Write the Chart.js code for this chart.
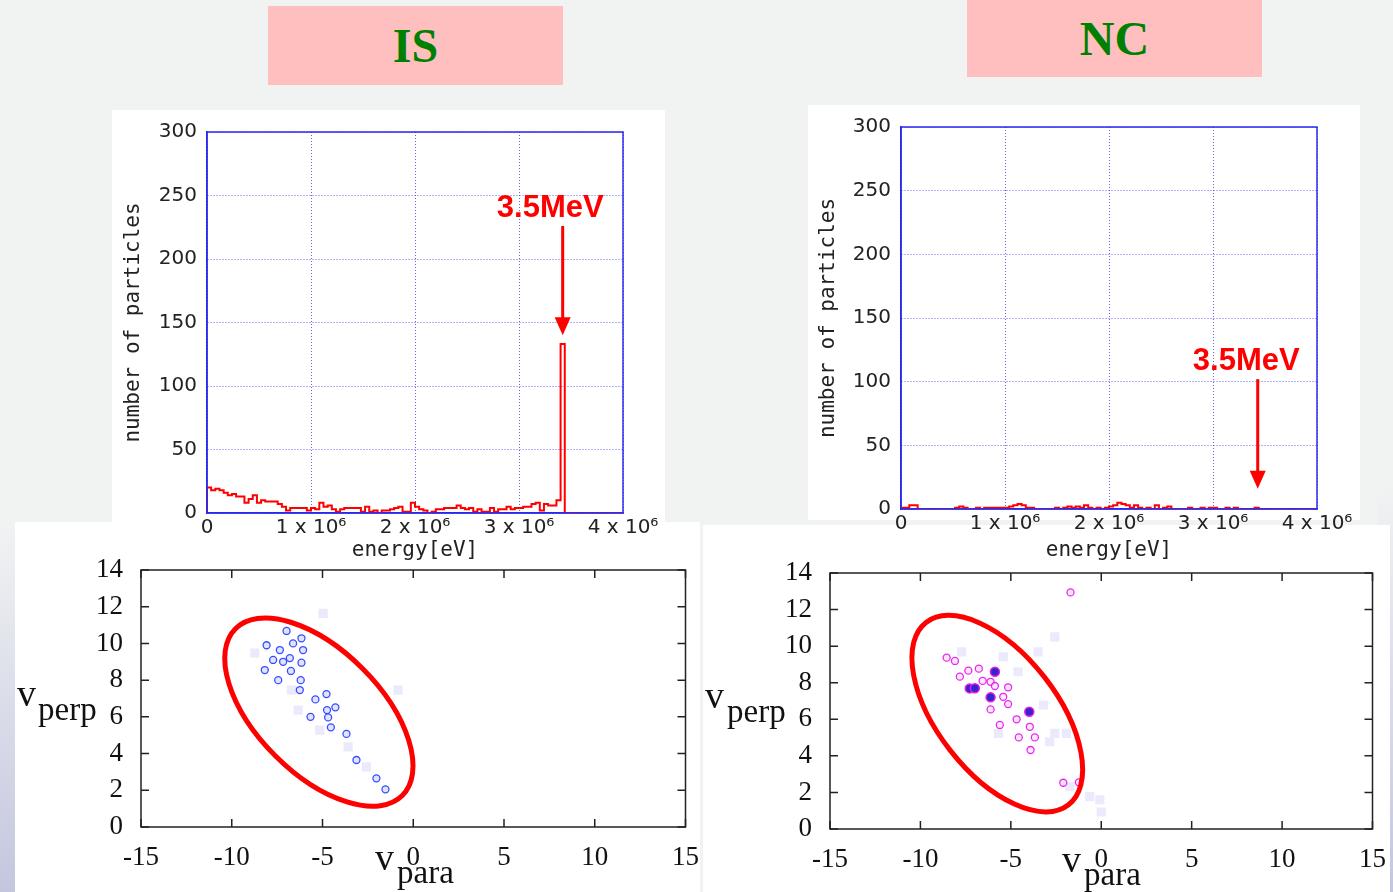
<!DOCTYPE html>
<html>
<head>
<meta charset="utf-8">
<script src="https://cdn.jsdelivr.net/npm/chart.js@4.4.1/dist/chart.umd.min.js"></script>
<style>
  html, body { margin: 0; padding: 0; }
  body { width: 1393px; height: 892px; background: #f1f3f3; position: relative; overflow: hidden; }
  .abs { position: absolute; }
  .panel { position: absolute; background: #fff; }
  .tag { position: absolute; background: #ffbfbf; color: #008000; font: bold 48px "Liberation Serif", serif;
         display: flex; align-items: center; justify-content: center; }
  .lab { position: absolute; font-family: "Liberation Serif", serif; color: #111; line-height: 1; white-space: nowrap; }
  canvas { position: absolute; }
</style>
</head>
<body>
<div class="abs" style="left:0;top:520px;width:15px;height:372px;background:linear-gradient(to bottom,#f1f3f3,#c3c7de);"></div>
<div class="abs" style="left:1378px;top:480px;width:15px;height:412px;background:linear-gradient(to bottom,#f1f3f3,#c3c7de);"></div>

<div class="panel" style="left:112px;top:110px;width:553px;height:412px;"></div>
<div class="panel" style="left:808px;top:105px;width:552px;height:415px;"></div>
<div class="panel" style="left:15px;top:522px;width:685px;height:370px;"></div>
<div class="panel" style="left:703px;top:525px;width:687px;height:367px;"></div>

<div class="tag" style="left:268px;top:6px;width:295px;height:79px;">IS</div>
<div class="tag" style="left:967px;top:0;width:295px;height:77px;">NC</div>

<canvas id="histIS" width="553" height="455" style="left:112px;top:110px;"></canvas>
<canvas id="histNC" width="552" height="460" style="left:808px;top:105px;"></canvas>
<canvas id="velIS" width="691" height="370" style="left:15px;top:522px;"></canvas>
<canvas id="velNC" width="690" height="367" style="left:703px;top:525px;"></canvas>

<span class="lab" style="left:17px;top:674px;font-size:38px;">v</span>
<span class="lab" style="left:38px;top:693px;font-size:33px;">perp</span>
<span class="lab" style="left:705px;top:676px;font-size:38px;">v</span>
<span class="lab" style="left:727px;top:695px;font-size:33px;">perp</span>
<span class="lab" style="left:375px;top:838px;font-size:38px;">v</span>
<span class="lab" style="left:397px;top:856px;font-size:33px;">para</span>
<span class="lab" style="left:1062px;top:840px;font-size:38px;">v</span>
<span class="lab" style="left:1084px;top:858px;font-size:33px;">para</span>

<script>
// energy histograms: counts per 40 keV bin, starting at 0 eV
const binWidth = 40000;
const energyMax = 4e6;
const energyTicks = [0, 1e6, 2e6, 3e6, 4e6];
const isCounts = [6, 20, 18, 19, 18, 16, 14, 15, 13, 13,
                  8, 11, 14, 8, 10, 9, 9, 9, 7, 5,
                  2, 4, 4, 4, 4, 2, 4, 3, 8, 5,
                  6, 3, 1, 3, 4, 4, 4, 4, 1, 5,
                  1, 2, 0, 2, 2, 3, 4, 5, 1, 1,
                  8, 5, 3, 2, 0, 1, 3, 3, 4, 4,
                  4, 6, 4, 3, 4, 1, 3, 1, 1, 4,
                  1, 3, 3, 5, 3, 4, 4, 5, 5, 7,
                  8, 2, 7, 6, 6, 10, 133];
const ncCounts = [1, 1, 1, 3, 3, 0, 0, 0, 0, 0,
                  0, 0, 0, 0, 1, 2, 1, 0, 0, 1,
                  0, 1, 1, 1, 1, 1, 1, 2, 3, 4,
                  3, 1, 1, 0, 0, 0, 0, 0, 1, 0,
                  1, 2, 1, 2, 1, 3, 1, 0, 1, 0,
                  1, 2, 3, 5, 4, 3, 1, 3, 1, 0,
                  1, 0, 3, 0, 1, 2, 0, 0, 0, 0,
                  1, 0, 0, 1, 0, 1, 1, 0, 0, 1,
                  0, 1, 0, 0, 0, 0, 1, 0, 0, 0,
                  0, 0, 0, 0, 0, 0, 0, 0, 0, 0];

// 3.5 MeV markers: arrow x, arrow top, arrow tip, label position (data units)
const isMarker = { x: 3.42e6, from: 226, to: 140, textX: 3.3e6, textY: 240, label: '3.5MeV' };
const ncMarker = { x: 3.43e6, from: 102, to: 16, textX: 3.32e6, textY: 116, label: '3.5MeV' };

// velocity space (v_para, v_perp)
const isContours = [
  { x: -6.98, y: 10.68 }, { x: -8.08, y: 9.9 }, { x: -7.35, y: 9.64 }, { x: -6.62, y: 10.0 },
  { x: -6.16, y: 10.28 }, { x: -6.07, y: 9.64 }, { x: -7.72, y: 9.1 }, { x: -7.17, y: 9.0 },
  { x: -6.8, y: 9.2 }, { x: -8.18, y: 8.55 }, { x: -6.74, y: 8.5 }, { x: -6.16, y: 8.95 },
  { x: -7.44, y: 8.0 }, { x: -6.2, y: 8.0 }, { x: -6.25, y: 7.46 }, { x: -5.39, y: 6.95 },
  { x: -4.78, y: 7.24 }, { x: -4.75, y: 6.37 }, { x: -4.29, y: 6.52 }, { x: -5.66, y: 6.0 },
  { x: -4.69, y: 5.97 }, { x: -4.54, y: 5.43 }, { x: -3.68, y: 5.07 }, { x: -3.13, y: 3.65 },
  { x: -2.03, y: 2.65 }, { x: -1.53, y: 2.05 }
];
const isFaint = [
  { x: -4.97, y: 11.64 }, { x: -0.84, y: 7.46 }, { x: -6.34, y: 6.37 }, { x: -5.15, y: 5.28 },
  { x: -3.59, y: 4.37 }, { x: -2.58, y: 3.28 }, { x: -8.73, y: 9.48 }, { x: -6.71, y: 7.46 }
];
const ncContours = [
  { x: -1.7, y: 12.94 }, { x: -8.55, y: 9.37 }, { x: -8.09, y: 9.19 }, { x: -7.82, y: 8.33 },
  { x: -7.35, y: 8.66 }, { x: -6.77, y: 8.77 }, { x: -6.56, y: 8.1 }, { x: -6.12, y: 8.05 },
  { x: -5.88, y: 7.82 }, { x: -5.42, y: 7.23 }, { x: -5.15, y: 7.75 }, { x: -5.15, y: 6.83 },
  { x: -6.12, y: 6.54 }, { x: -4.68, y: 6.0 }, { x: -5.61, y: 5.69 }, { x: -3.95, y: 5.59 },
  { x: -4.56, y: 5.01 }, { x: -3.67, y: 5.01 }, { x: -3.91, y: 4.32 }, { x: -2.1, y: 2.53 },
  { x: -1.24, y: 2.55 }
];
const ncPeaks = [
  { x: -5.88, y: 8.6 }, { x: -7.27, y: 7.69 }, { x: -6.99, y: 7.7 }, { x: -6.12, y: 7.2 }, { x: -3.98, y: 6.41 }
];
const ncFaint = [
  { x: -2.57, y: 10.51 }, { x: -3.49, y: 9.69 }, { x: -7.72, y: 9.69 }, { x: -5.42, y: 9.42 },
  { x: -4.6, y: 8.6 }, { x: -3.2, y: 6.78 }, { x: -2.57, y: 5.23 }, { x: -1.92, y: 5.23 },
  { x: -2.85, y: 4.77 }, { x: -5.69, y: 5.23 }, { x: -1.74, y: 2.31 }, { x: -0.64, y: 1.77 },
  { x: -0.08, y: 1.6 }, { x: 0.0, y: 0.93 }
];
// red ellipses: centre, semi-axes (v units), tilt in degrees
const isEllipse = { cx: -5.2, cy: 6.26, a: 6.5, b: 3.4, angle: 45 };
const ncEllipse = { cx: -5.75, cy: 6.31, a: 6.4, b: 3.3, angle: 52 };

function histPoints(counts) {
  const pts = [{ x: 0, y: 0 }];
  counts.forEach((c, i) => pts.push({ x: i * binWidth, y: c }));
  pts.push({ x: counts.length * binWidth, y: 0 });
  if (counts.length * binWidth < energyMax) pts.push({ x: energyMax, y: 0 });
  return pts;
}

// box around the plot area, with optional inward ticks (gnuplot style)
const frame = {
  id: 'frame',
  afterDraw(chart, args, o) {
    const { ctx, chartArea: a, scales } = chart;
    ctx.save();
    ctx.strokeStyle = o.color;
    ctx.lineWidth = o.width;
    ctx.strokeRect(a.left, a.top, a.right - a.left, a.bottom - a.top);
    if (o.tickLen) {
      ctx.beginPath();
      scales.x.ticks.forEach(t => {
        const px = scales.x.getPixelForValue(t.value);
        ctx.moveTo(px, a.bottom); ctx.lineTo(px, a.bottom - o.tickLen);
        ctx.moveTo(px, a.top); ctx.lineTo(px, a.top + o.tickLen);
      });
      scales.y.ticks.forEach(t => {
        const py = scales.y.getPixelForValue(t.value);
        ctx.moveTo(a.left, py); ctx.lineTo(a.left + o.tickLen, py);
        ctx.moveTo(a.right, py); ctx.lineTo(a.right - o.tickLen, py);
      });
      ctx.stroke();
    }
    ctx.restore();
  }
};

const marker = {
  id: 'marker',
  afterDatasetsDraw(chart, args, o) {
    if (!o || o.x === undefined) return;
    const { ctx, scales: { x, y } } = chart;
    const px = x.getPixelForValue(o.x);
    const top = y.getPixelForValue(o.from), tip = y.getPixelForValue(o.to);
    ctx.save();
    ctx.strokeStyle = '#ff0000';
    ctx.fillStyle = '#ff0000';
    ctx.lineWidth = 3;
    ctx.beginPath();
    ctx.moveTo(px, top);
    ctx.lineTo(px, tip - 14);
    ctx.stroke();
    ctx.beginPath();
    ctx.moveTo(px - 8, tip - 18);
    ctx.lineTo(px + 8, tip - 18);
    ctx.lineTo(px, tip);
    ctx.closePath();
    ctx.fill();
    ctx.font = 'bold 31px "Liberation Sans", Arial, sans-serif';
    ctx.textAlign = 'center';
    ctx.textBaseline = 'middle';
    ctx.fillText(o.label, x.getPixelForValue(o.textX), y.getPixelForValue(o.textY));
    ctx.restore();
  }
};

const ellipse = {
  id: 'ellipse',
  afterDatasetsDraw(chart, args, o) {
    if (!o || o.cx === undefined) return;
    const { ctx, scales: { x, y } } = chart;
    const unit = Math.abs(x.getPixelForValue(1) - x.getPixelForValue(0));
    ctx.save();
    ctx.strokeStyle = '#ff0000';
    ctx.lineWidth = 5;
    ctx.beginPath();
    ctx.ellipse(x.getPixelForValue(o.cx), y.getPixelForValue(o.cy), o.a * unit, o.b * unit,
                o.angle * Math.PI / 180, 0, Math.PI * 2);
    ctx.stroke();
    ctx.restore();
  }
};

Chart.register(frame, marker, ellipse);

function histChart(id, counts, mk, lay) {
  const blue = '#2a2aee';
  const gridBlue = 'rgba(50,50,235,0.75)';
  return new Chart(document.getElementById(id), {
    type: 'line',
    data: {
      datasets: [{
        data: histPoints(counts),
        stepped: 'after',
        borderColor: '#ff0000',
        borderWidth: 2,
        pointRadius: 0,
        fill: false
      }]
    },
    options: {
      responsive: false,
      animation: false,
      layout: { padding: { top: lay.top, right: lay.right, left: 0, bottom: 0 } },
      scales: {
        x: {
          type: 'linear',
          min: 0,
          max: energyMax,
          afterBuildTicks: s => { s.ticks = energyTicks.map(v => ({ value: v })); },
          afterFit: s => { s.height = lay.xh; },
          grid: { color: gridBlue, drawTicks: false },
          border: { color: blue, width: 1.5, dash: [1, 2] },
          ticks: {
            padding: 3,
            maxRotation: 0,
            color: '#222',
            font: { family: 'DejaVu Sans', size: 20 },
            callback: v => v === 0 ? '0' : (v / 1e6) + ' x 10\u2076'
          },
          title: {
            display: true,
            text: 'energy[eV]',
            color: '#222',
            padding: { top: 0, bottom: 2 },
            font: { family: 'DejaVu Sans Mono', size: 21 }
          }
        },
        y: {
          min: 0,
          max: 300,
          afterFit: s => { s.width = lay.yw; },
          grid: { color: gridBlue, drawTicks: false },
          border: { color: blue, width: 1.5, dash: [1, 2] },
          ticks: {
            stepSize: 50,
            padding: 10,
            color: '#222',
            font: { family: 'DejaVu Sans', size: 20 }
          },
          title: {
            display: true,
            text: 'number of particles',
            color: '#222',
            padding: { top: lay.tp, bottom: 0 },
            font: { family: 'DejaVu Sans Mono', size: 21 }
          }
        }
      },
      plugins: {
        legend: { display: false },
        tooltip: { enabled: false },
        frame: { color: blue, width: 1.5 },
        marker: mk
      }
    }
  });
}

function velChart(id, sets, ell, lay) {
  return new Chart(document.getElementById(id), {
    type: 'scatter',
    data: { datasets: sets },
    options: {
      responsive: false,
      animation: false,
      layout: { padding: { top: 48, right: lay.right, left: 0, bottom: 0 } },
      scales: {
        x: {
          min: -15,
          max: 15,
          afterFit: s => { s.height = lay.xh; },
          grid: { display: false },
          border: { display: false },
          ticks: { stepSize: 5, padding: 7, maxRotation: 0, color: '#111',
                   font: { family: 'Liberation Serif', size: 27 } }
        },
        y: {
          min: 0,
          max: 14,
          afterFit: s => { s.width = lay.yw; },
          grid: { display: false },
          border: { display: false },
          ticks: { stepSize: 2, padding: 10, color: '#111',
                   font: { family: 'Liberation Serif', size: 27 } }
        }
      },
      plugins: {
        legend: { display: false },
        tooltip: { enabled: false },
        frame: { color: '#222', width: 1.5, tickLen: 8 },
        ellipse: ell
      }
    }
  });
}

histChart('histIS', isCounts, isMarker, { top: 19, right: 42, xh: 52, yw: 95, tp: 9 });
histChart('histNC', ncCounts, ncMarker, { top: 19, right: 43, xh: 56, yw: 93, tp: 8 });

velChart('velIS', [
  { data: isContours, pointStyle: 'circle', pointRadius: 3.5, borderWidth: 1.3,
    pointBorderColor: '#3a4cff', pointBackgroundColor: 'rgba(190,200,255,0.5)' },
  { data: isFaint, pointStyle: 'rect', pointRadius: 6.5, borderWidth: 0,
    pointBackgroundColor: 'rgba(234,234,252,1)' }
], isEllipse, { right: 0, xh: 65, yw: 126 });

velChart('velNC', [
  { data: ncPeaks, pointStyle: 'circle', pointRadius: 4.5, borderWidth: 1.5,
    pointBorderColor: '#e020e8', pointBackgroundColor: '#3a22cc' },
  { data: ncContours, pointStyle: 'circle', pointRadius: 3.5, borderWidth: 1.3,
    pointBorderColor: '#e828ee', pointBackgroundColor: 'rgba(255,210,255,0.5)' },
  { data: ncFaint, pointStyle: 'rect', pointRadius: 6.5, borderWidth: 0,
    pointBackgroundColor: 'rgba(234,234,252,1)' }
], ncEllipse, { right: 12, xh: 63, yw: 127 });
</script>
</body>
</html>
